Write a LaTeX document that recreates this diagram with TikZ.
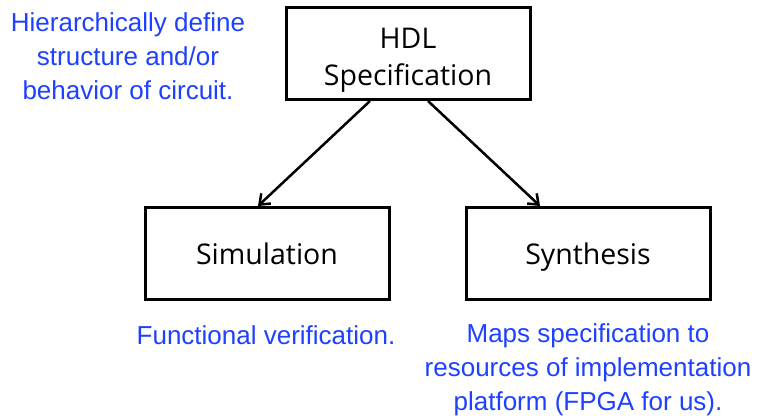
\documentclass[tikz,border=0pt]{standalone}
\usepackage{fontspec}
\setmainfont{Open Sans}
\newfontfamily\notefont{Liberation Sans}
\usetikzlibrary{arrows.meta}
\definecolor{noteblue}{RGB}{30,64,255}

\begin{document}
\begin{tikzpicture}[x=1pt,y=-1pt,
    blockbox/.style={draw,line width=3pt,inner sep=0pt,minimum width=244pt,minimum height=92pt,align=center,font=\fontsize{28.5}{37}\selectfont},
    onerow/.style={text height=23pt,text depth=0pt},
    note/.style={text=noteblue,align=center,inner sep=0pt,font=\notefont\fontsize{26}{34}\selectfont},
    flow/.style={-{Straight Barb[length=9pt,width=14pt]},line width=2.5pt}]
    \useasboundingbox (0,0) rectangle (763,419);
    %Blocks
    \node [blockbox] (hdl) at (408,53.5) {\rule{0pt}{33pt}HDL\\Specification};
    \node [blockbox,onerow] (sim) at (267,253.5) {Simulation};
    \node [blockbox,onerow] (syn) at (588,253.5) {Synthesis};
    %Notes
    \node [note] (hdlnote) at (128,56) {Hierarchically define\\structure and/or\\behavior of circuit.};
    \node [note] (simnote) at (266,335) {Functional verification.};
    \node [note] (synnote) at (588,370) {Maps specification to\\resources of implementation\\platform (FPGA for us).};
    %Flow
    \draw [flow] ([xshift=-38pt]hdl.south) -- ([xshift=-9pt]sim.north);
    \draw [flow] ([xshift=20pt]hdl.south) -- ([xshift=-48pt]syn.north);
\end{tikzpicture}
\end{document}
